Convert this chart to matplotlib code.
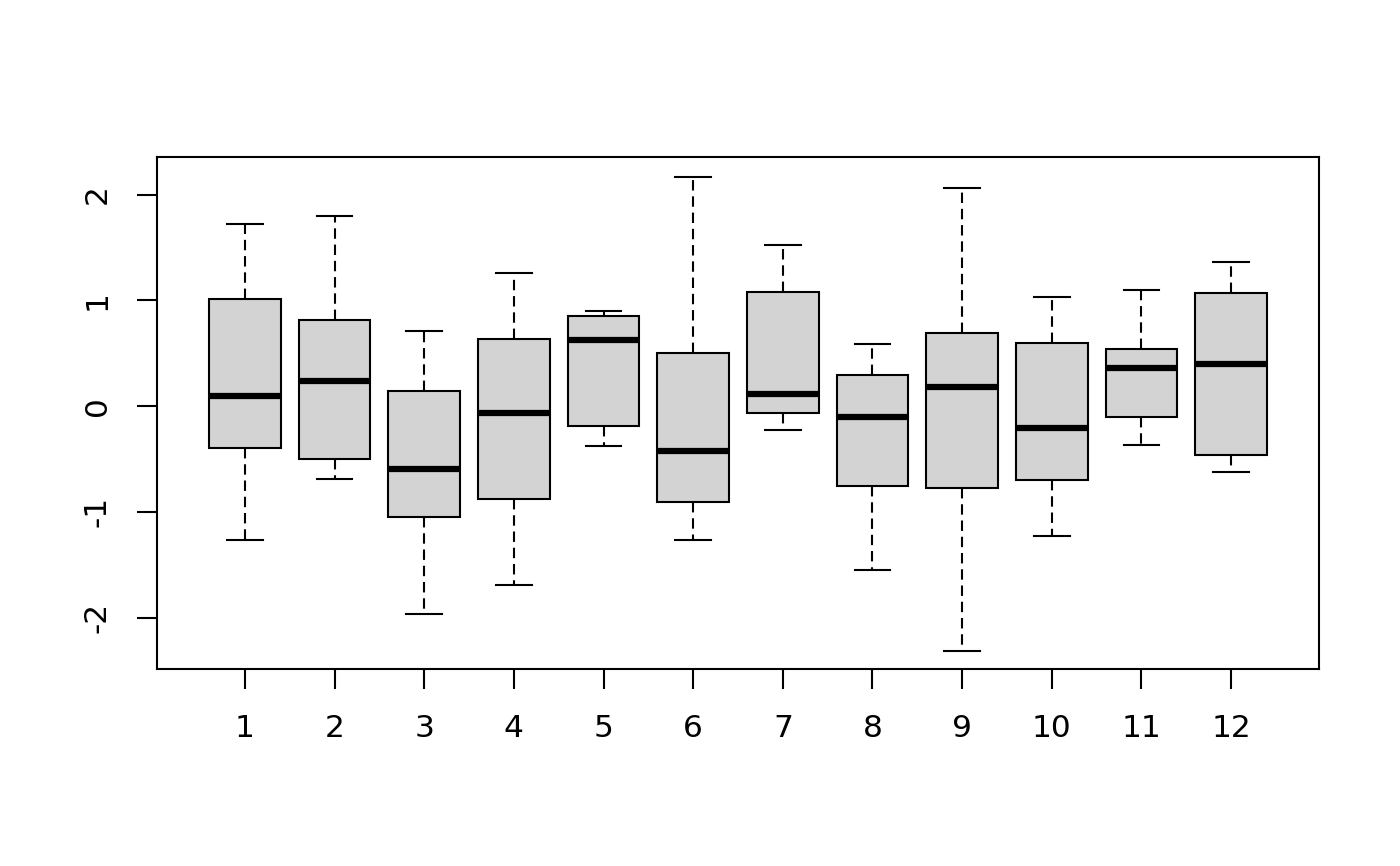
import matplotlib
matplotlib.use("Agg")
import matplotlib.pyplot as plt

groups = [str(i) for i in range(1, 13)]
whislo = [-1.27, -0.69, -1.97, -1.69, -0.38, -1.27, -0.23, -1.55, -2.32, -1.23, -0.37, -0.62]
q1     = [-0.40, -0.50, -1.05, -0.88, -0.19, -0.91, -0.07, -0.76, -0.78, -0.70, -0.10, -0.46]
med    = [0.095, 0.24, -0.60, -0.07, 0.62, -0.43, 0.11, -0.10, 0.18, -0.21, 0.36, 0.40]
q3     = [1.01, 0.81, 0.14, 0.63, 0.85, 0.50, 1.08, 0.29, 0.69, 0.60, 0.54, 1.07]
whishi = [1.72, 1.80, 0.71, 1.26, 0.90, 2.17, 1.52, 0.59, 2.06, 1.03, 1.10, 1.36]
yticks = [-2, -1, 0, 1, 2]

stats = [dict(label=g, whislo=a, q1=b, med=c, q3=d, whishi=e, fliers=[])
         for g, a, b, c, d, e in zip(groups, whislo, q1, med, q3, whishi)]

fig = plt.figure(figsize=(14, 8.66), dpi=100)
ax = fig.add_axes([157/1400, 1-669/866, (1319-157)/1400, (669-157)/866])
pos = list(range(1, len(groups)+1))
ax.bxp(stats, positions=pos, widths=0.8, patch_artist=True, showfliers=False,
       boxprops=dict(facecolor='#d3d3d3', edgecolor='black', linewidth=1.5),
       medianprops=dict(color='black', linewidth=4.5, solid_capstyle='butt'),
       whiskerprops=dict(color='black', linewidth=1.5, linestyle=(0, (5, 2.8))),
       capprops=dict(color='black', linewidth=1.5), capwidths=0.4)
ax.set_xlim(0.02, 12.98)
ax.set_ylim(-2.487, 2.355)
ax.set_xticks(pos)
ax.set_xticklabels(groups)
ax.set_yticks(yticks)
ax.set_yticklabels([str(t) for t in yticks], rotation=90, va='center')
for s in ax.spines.values():
    s.set_linewidth(1.5)
ax.tick_params(axis='both', length=14.5, width=1.5, labelsize=22.5, pad=18)
fig.savefig("out.png", dpi=100)
